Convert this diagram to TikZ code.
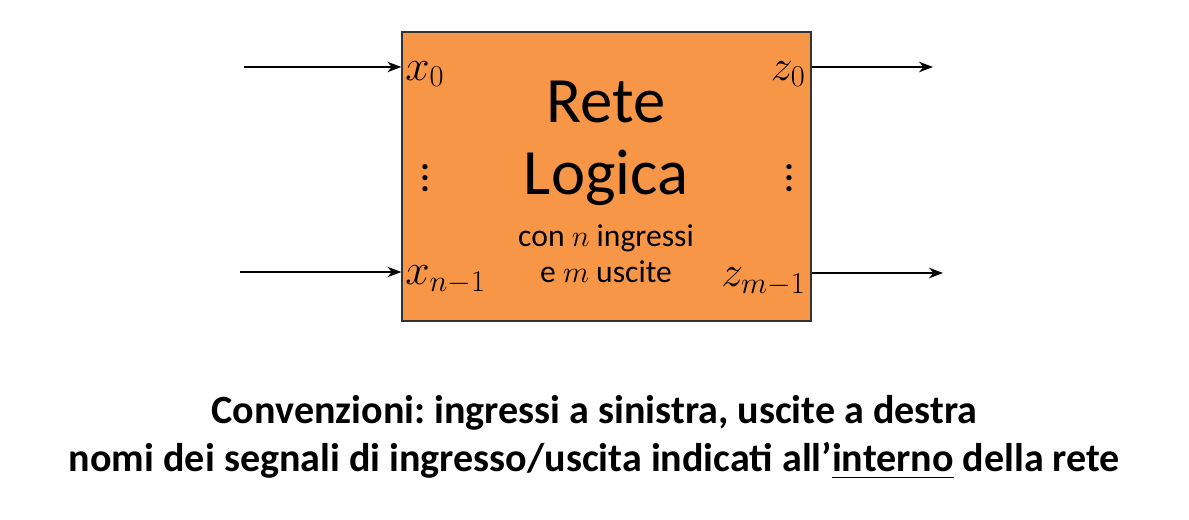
\documentclass[tikz,border=0pt]{standalone}
\usepackage{amsmath, amssymb}
\usepackage{fontspec}
\setmainfont{Carlito}
\usepackage{tikz}
\usetikzlibrary{arrows.meta, positioning}

\definecolor{reteorange}{HTML}{F79646}
\frenchspacing
\newcommand{\puntini}{\vbox{\baselineskip=6.3pt \lineskiplimit=-10pt \hbox{.}\hbox{.}\hbox{.}}}

\begin{document}
\begin{tikzpicture}[x=0.02cm, y=-0.02cm, >=Stealth,
    rete/.style={draw=black!80, line width=0.8pt, fill=reteorange, minimum width=8.18cm, minimum height=5.78cm, inner sep=0pt},
    segnale/.style={font=\fontsize{26}{28}\selectfont, inner sep=0pt},
    filo/.style={->, line width=1.1pt}]
  \useasboundingbox (0,0) rectangle (1189,520);
  \node[rete] (rete) at (606.5,176.5) {};
  % titolo dentro la rete
  \node[font=\fontsize{36.8}{38}\selectfont] (tit1) at (606,102) {Rete};
  \node[font=\fontsize{36.8}{38}\selectfont] (tit2) at (606,178) {Logica};
  \node[font=\fontsize{18}{20}\selectfont] (sub1) at (606,238) {con $n$ ingressi};
  \node[font=\fontsize{18}{20}\selectfont] (sub2) at (606,272) {e $m$ uscite};
  % nomi dei segnali
  \node[segnale, anchor=west] (x0) at (405,74) {$x_0$};
  \node[segnale, anchor=west] (xn) at (405,280) {$x_{n-1}$};
  \node[segnale, anchor=east] (z0) at (806,74) {$z_0$};
  \node[segnale, anchor=east] (zm) at (806,282) {$z_{m-1}$};
  \node[font=\bfseries\fontsize{20}{22}\selectfont, inner sep=0pt] (dotsx) at (425,178) {\puntini};
  \node[font=\bfseries\fontsize{20}{22}\selectfont, inner sep=0pt] (dotsz) at (789,178) {\puntini};
  % fili
  \coordinate (in0) at (244,67);
  \coordinate (in1) at (240,272);
  \coordinate (out0) at (933,67);
  \coordinate (out1) at (943,273);
  \draw[filo] (in0) -- (in0 -| rete.west);
  \draw[filo] (in1) -- (in1 -| rete.west);
  \draw[filo] (out0 -| rete.east) -- (out0);
  \draw[filo] (out1 -| rete.east) -- (out1);
  % convenzioni
  \node[font=\bfseries\fontsize{22.8}{26}\selectfont] (conv1) at (594.5,413) {Convenzioni: ingressi a sinistra, uscite a destra};
  \node[font=\bfseries\fontsize{22.8}{26}\selectfont] (conv2) at (594.5,461) {nomi dei segnali di ingresso/uscita indicati all’\underline{interno} della rete};
\end{tikzpicture}
\end{document}
